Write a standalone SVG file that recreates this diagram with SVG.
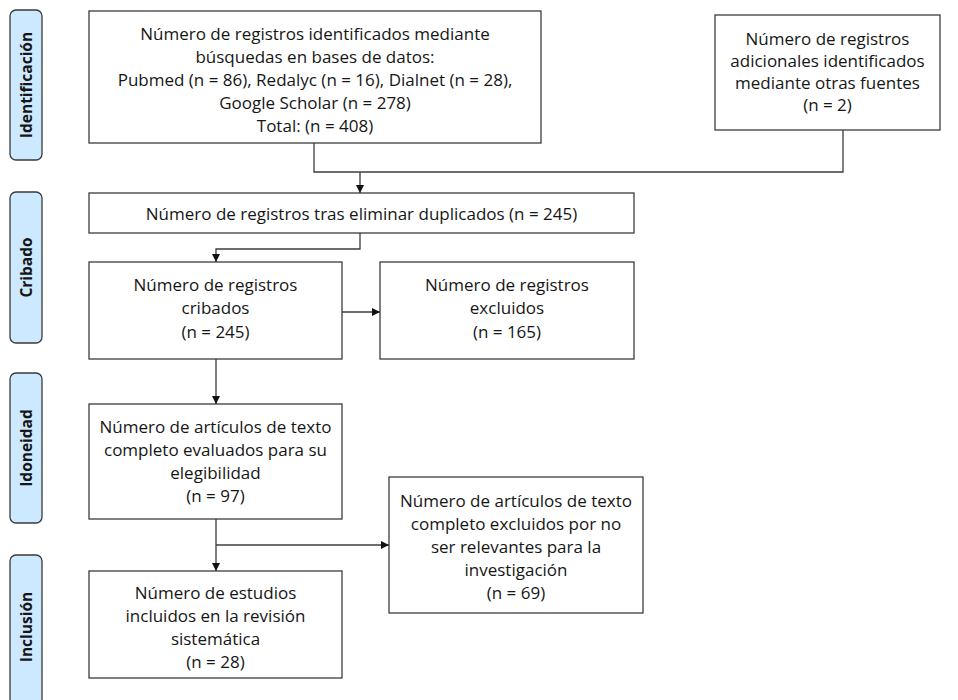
<svg xmlns="http://www.w3.org/2000/svg" width="958" height="700" viewBox="0 0 958 700">
<defs>
<style>
.box{fill:#fff;stroke:#3c3c3c;stroke-width:1.3}
.side{fill:#cce9ff;stroke:#3a3a3a;stroke-width:1.3}
.t{font-family:"Open Sans","Liberation Sans",sans-serif;font-size:17px;fill:#161616;text-anchor:middle}
.s{font-family:"Open Sans","Liberation Sans",sans-serif;font-size:15.5px;font-weight:bold;fill:#161616;text-anchor:middle}
.c{fill:none;stroke:#3c3c3c;stroke-width:1.3}
</style>
<marker id="ah" viewBox="0 0 10 10" refX="10" refY="5" markerWidth="8" markerHeight="8" orient="auto" markerUnits="userSpaceOnUse">
<path d="M0,0 L10,5 L0,10 z" fill="#111"/>
</marker>
</defs>
<rect width="958" height="700" fill="#fff"/>
<g id="side-identificacion"><rect class="side" x="10" y="10" width="32" height="150" rx="6"/><text class="s" transform="translate(31.5,85) rotate(-90)">Identificación</text></g>
<g id="side-cribado"><rect class="side" x="10" y="192" width="32" height="151" rx="6"/><text class="s" transform="translate(31.5,267.5) rotate(-90)">Cribado</text></g>
<g id="side-idoneidad"><rect class="side" x="10" y="373" width="32" height="150" rx="6"/><text class="s" transform="translate(31.5,448) rotate(-90)">Idoneidad</text></g>
<g id="side-inclusion"><rect class="side" x="10" y="555" width="32" height="160" rx="6"/><text class="s" transform="translate(31.5,627) rotate(-90)">Inclusión</text></g>

<g id="n-bases"><rect class="box" x="89" y="11" width="452" height="132"/>
<text class="t" x="315" y="40">Número de registros identificados mediante</text>
<text class="t" x="315" y="63">búsquedas en bases de datos:</text>
<text class="t" x="315" y="86">Pubmed (n = 86), Redalyc (n = 16), Dialnet (n = 28),</text>
<text class="t" x="315" y="109">Google Scholar (n = 278)</text>
<text class="t" x="315" y="132">Total: (n = 408)</text></g>

<g id="n-otras"><rect class="box" x="715" y="15" width="225" height="115"/>
<text class="t" x="827.5" y="45">Número de registros</text>
<text class="t" x="827.5" y="67">adicionales identificados</text>
<text class="t" x="827.5" y="89">mediante otras fuentes</text>
<text class="t" x="827.5" y="111">(n = 2)</text></g>

<g id="n-duplicados"><rect class="box" x="89" y="193" width="545" height="40"/>
<text class="t" x="361.5" y="220">Número de registros tras eliminar duplicados (n = 245)</text></g>

<g id="n-cribados"><rect class="box" x="89" y="262" width="253" height="97"/>
<text class="t" x="215.5" y="291">Número de registros</text>
<text class="t" x="215.5" y="314">cribados</text>
<text class="t" x="215.5" y="338">(n = 245)</text></g>

<g id="n-excluidos"><rect class="box" x="380" y="262" width="254" height="97"/>
<text class="t" x="507" y="291">Número de registros</text>
<text class="t" x="507" y="314">excluidos</text>
<text class="t" x="507" y="338">(n = 165)</text></g>

<g id="n-evaluados"><rect class="box" x="89" y="404" width="253" height="115"/>
<text class="t" x="215.5" y="433">Número de artículos de texto</text>
<text class="t" x="215.5" y="456">completo evaluados para su</text>
<text class="t" x="215.5" y="479">elegibilidad</text>
<text class="t" x="215.5" y="502">(n = 97)</text></g>

<g id="n-noRelevantes"><rect class="box" x="389" y="477" width="254" height="136"/>
<text class="t" x="516" y="507">Número de artículos de texto</text>
<text class="t" x="516" y="530">completo excluidos por no</text>
<text class="t" x="516" y="553">ser relevantes para la</text>
<text class="t" x="516" y="576">investigación</text>
<text class="t" x="516" y="599">(n = 69)</text></g>

<g id="n-incluidos"><rect class="box" x="89" y="571" width="253" height="107"/>
<text class="t" x="215.5" y="599">Número de estudios</text>
<text class="t" x="215.5" y="622">incluidos en la revisión</text>
<text class="t" x="215.5" y="645">sistemática</text>
<text class="t" x="215.5" y="668">(n = 28)</text></g>

<g id="connectors">
<polyline class="c" points="314,143 314,172 843,172 843,130"/>
<line class="c" x1="360" y1="172" x2="360" y2="193" marker-end="url(#ah)"/>
<polyline class="c" points="360,233 360,249 216,249 216,262" marker-end="url(#ah)"/>
<line class="c" x1="342" y1="312" x2="380" y2="312" marker-end="url(#ah)"/>
<line class="c" x1="216" y1="359" x2="216" y2="404" marker-end="url(#ah)"/>
<line class="c" x1="216" y1="519" x2="216" y2="571" marker-end="url(#ah)"/>
<line class="c" x1="216" y1="545" x2="389" y2="545" marker-end="url(#ah)"/>
</g>
</svg>
